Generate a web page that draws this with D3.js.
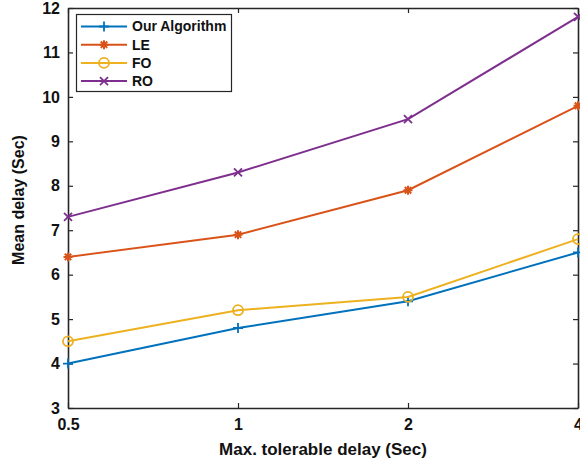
<!DOCTYPE html>
<html>
<head>
<meta charset="utf-8">
<script src="https://cdn.jsdelivr.net/npm/d3@7"></script>
<style>
  html, body { margin: 0; padding: 0; background: #fff; }
  svg { display: block; font-family: "Liberation Sans", Arial, sans-serif; }
</style>
</head>
<body>
<svg id="chart" width="580" height="463"></svg>
<script>
// Tolerable delay settings (evenly spaced categories)
const categories = ["0.5", "1", "2", "4"];
const yTicks = [3, 4, 5, 6, 7, 8, 9, 10, 11, 12];

// Mean delay per method
const ourAlgorithm = [4.0, 4.8, 5.4, 6.5];
const leValues     = [6.4, 6.9, 7.9, 9.8];
const foValues     = [4.5, 5.2, 5.5, 6.8];
const roValues     = [7.3, 8.3, 9.5, 11.8];

const seriesNames  = ["Our Algorithm", "LE", "FO", "RO"];
const seriesColors = ["#0072BD", "#D95319", "#EDB120", "#7E2F8E"];
const seriesMarks  = ["plus", "star", "circle", "cross"];

const series = [ourAlgorithm, leValues, foValues, roValues].map((v, i) => ({
  name: seriesNames[i], values: v, color: seriesColors[i], mark: seriesMarks[i]
}));

const svg = d3.select("#chart");
const plotLeft = 68, plotRight = 578, plotTop = 8, plotBottom = 408;

const x = d3.scalePoint().domain(categories).range([plotLeft, plotRight]);
const y = d3.scaleLinear().domain([3, 12]).range([plotBottom, plotTop]);

const axisColor = "#262626";

// Bottom and left axes with inward ticks
const gx = svg.append("g").attr("transform", `translate(0,${plotBottom})`)
  .call(d3.axisBottom(x).tickSizeInner(-5).tickSizeOuter(0).tickPadding(11));
const gy = svg.append("g").attr("transform", `translate(${plotLeft},0)`)
  .call(d3.axisLeft(y).tickValues(yTicks).tickFormat(d3.format("d"))
        .tickSizeInner(-5).tickSizeOuter(0).tickPadding(8));
// Top and right mirror ticks (box)
const gt = svg.append("g").attr("transform", `translate(0,${plotTop})`)
  .call(d3.axisTop(x).tickSizeInner(-5).tickSizeOuter(0).tickFormat(""));
const gr = svg.append("g").attr("transform", `translate(${plotRight},0)`)
  .call(d3.axisRight(y).tickValues(yTicks).tickSizeInner(-5).tickSizeOuter(0).tickFormat(""));

[gx, gy, gt, gr].forEach(g => {
  g.select(".domain").attr("stroke", axisColor).attr("stroke-width", 1.6);
  g.selectAll(".tick line").attr("stroke", axisColor).attr("stroke-width", 1.2);
  g.selectAll(".tick text").attr("fill", "#111").attr("font-size", 16)
    .attr("font-weight", "bold").attr("font-family", "Liberation Sans, Arial, sans-serif");
});

// Axis titles
svg.append("text").attr("x", 323).attr("y", 455).attr("text-anchor", "middle")
  .attr("font-size", 17).attr("font-weight", "bold").attr("fill", "#111")
  .text("Max. tolerable delay (Sec)");
svg.append("text").attr("transform", "translate(24,200) rotate(-90)")
  .attr("text-anchor", "middle").attr("font-size", 16).attr("font-weight", "bold")
  .attr("fill", "#111").text("Mean delay (Sec)");

// Marker drawing
function drawMarker(g, type, cx, cy, color) {
  const s = 5;
  if (type === "plus") {
    g.append("path").attr("d", `M${cx - s},${cy}H${cx + s}M${cx},${cy - s}V${cy + s}`)
      .attr("stroke", color).attr("stroke-width", 1.8).attr("fill", "none");
  } else if (type === "cross") {
    const k = 4;
    g.append("path").attr("d", `M${cx - k},${cy - k}L${cx + k},${cy + k}M${cx - k},${cy + k}L${cx + k},${cy - k}`)
      .attr("stroke", color).attr("stroke-width", 1.8).attr("fill", "none");
  } else if (type === "circle") {
    g.append("circle").attr("cx", cx).attr("cy", cy).attr("r", 5)
      .attr("stroke", color).attr("stroke-width", 1.8).attr("fill", "none");
  } else if (type === "star") {
    const k = 4.5, d = 3.2;
    g.append("path").attr("d",
      `M${cx - k},${cy}H${cx + k}M${cx},${cy - k}V${cy + k}` +
      `M${cx - d},${cy - d}L${cx + d},${cy + d}M${cx - d},${cy + d}L${cx + d},${cy - d}`)
      .attr("stroke", color).attr("stroke-width", 2).attr("fill", "none");
  }
}

const line = d3.line().x((d, i) => x(categories[i])).y(d => y(d));
const plot = svg.append("g");
series.forEach(s => {
  plot.append("path").datum(s.values).attr("d", line)
    .attr("fill", "none").attr("stroke", s.color).attr("stroke-width", 2);
  s.values.forEach((v, i) => drawMarker(plot, s.mark, x(categories[i]), y(v), s.color));
});

// Legend
const lg = svg.append("g");
lg.append("rect").attr("x", 76.5).attr("y", 14.5).attr("width", 155).attr("height", 77)
  .attr("fill", "#fff").attr("stroke", axisColor).attr("stroke-width", 1.2);
series.forEach((s, i) => {
  const ly = 26.5 + i * 18.2;
  lg.append("line").attr("x1", 81).attr("x2", 127).attr("y1", ly).attr("y2", ly)
    .attr("stroke", s.color).attr("stroke-width", 2);
  drawMarker(lg, s.mark, 104, ly, s.color);
  lg.append("text").attr("x", 132).attr("y", ly).attr("dy", "0.35em")
    .attr("font-size", 14).attr("font-weight", "bold").attr("fill", "#111").text(s.name);
});
</script>
</body>
</html>
